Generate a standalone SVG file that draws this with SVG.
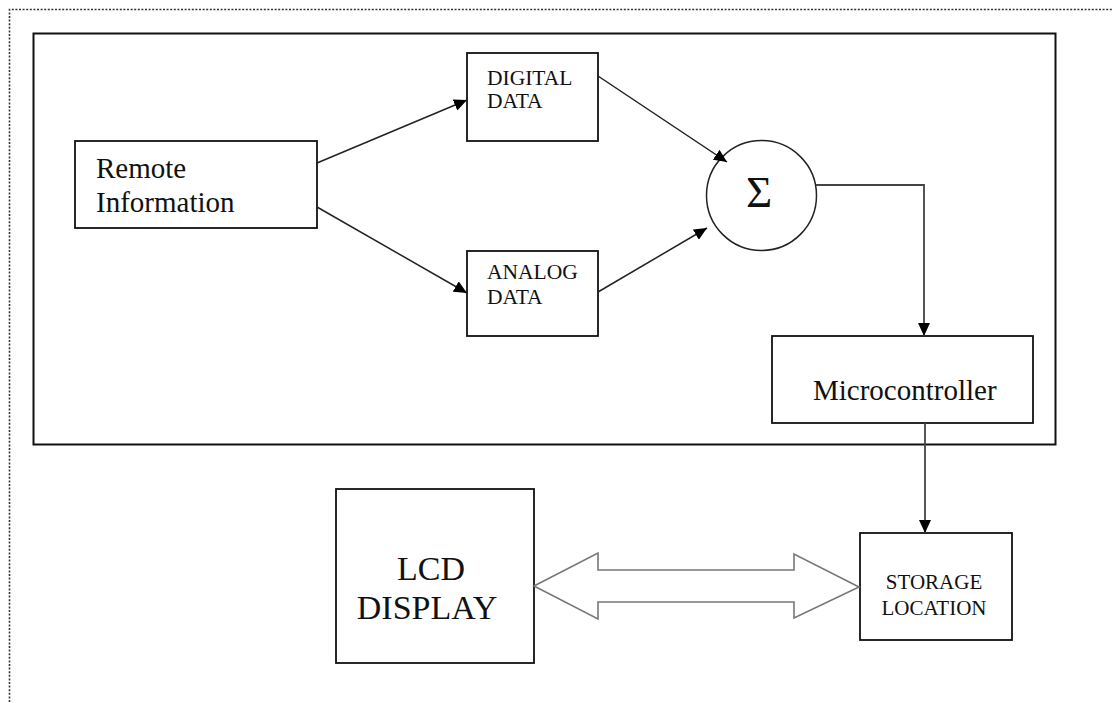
<svg xmlns="http://www.w3.org/2000/svg" width="1112" height="703" viewBox="0 0 1112 703">
  <style>
    .box { fill: #fff; stroke: #111; stroke-width: 1.8; }
    .frame { fill: none; stroke: #111; stroke-width: 2; }
    .page { fill: none; stroke: #333; stroke-width: 1.6; stroke-dasharray: 2 1.6; }
    .wire { fill: none; stroke: #222; stroke-width: 1.5; }
    .feed { fill: none; stroke: #444; stroke-width: 1.8; }
    .bus { fill: #fff; stroke: #777; stroke-width: 1.6; stroke-linejoin: miter; }
    text { font-family: "Liberation Serif", "Times New Roman", serif; fill: #111; }
    .big { font-size: 29px; }
    .small { font-size: 21.5px; }
    .lcd { font-size: 34px; text-anchor: middle; }
    .store { font-size: 21px; text-anchor: middle; }
  </style>
  <defs>
    <marker id="arrow" markerUnits="userSpaceOnUse" markerWidth="14" markerHeight="12" refX="13" refY="6" orient="auto">
      <path d="M0,0 L13,6 L0,12 z" fill="#000"/>
    </marker>
  </defs>

  <rect width="1112" height="703" fill="#fff"/>

  <!-- page border (dotted) running off the right and bottom edges -->
  <path class="page" d="M9.5,720 V9.5 H1120"/>

  <!-- enclosing system box -->
  <rect class="frame" x="33.5" y="33.5" width="1022" height="411"/>

  <g id="remote-information">
    <rect class="box" x="75" y="141" width="242" height="87"/>
    <text class="big" x="96" y="178">Remote</text>
    <text class="big" x="96" y="212">Information</text>
  </g>

  <g id="digital-data">
    <rect class="box" x="467" y="53" width="131" height="88"/>
    <text class="small" x="487" y="85">DIGITAL</text>
    <text class="small" x="487" y="108">DATA</text>
  </g>

  <g id="analog-data">
    <rect class="box" x="467" y="251" width="131" height="85"/>
    <text class="small" x="487" y="279">ANALOG</text>
    <text class="small" x="487" y="304">DATA</text>
  </g>

  <g id="summer">
    <circle cx="761.5" cy="195.5" r="55" fill="#fff" stroke="#222" stroke-width="1.5"/>
    <text x="759" y="207" font-size="45" text-anchor="middle">Σ</text>
  </g>

  <g id="microcontroller">
    <rect class="box" x="772" y="336" width="261" height="87"/>
    <text class="big" x="813" y="400">Microcontroller</text>
  </g>

  <g id="lcd-display">
    <rect class="box" x="336" y="489" width="198" height="174"/>
    <text class="lcd" x="431" y="580">LCD</text>
    <text class="lcd" x="427" y="619">DISPLAY</text>
  </g>

  <g id="storage-location">
    <rect class="box" x="860" y="533" width="152" height="107"/>
    <text class="store" x="934" y="589">STORAGE</text>
    <text class="store" x="934" y="615">LOCATION</text>
  </g>

  <g id="connectors">
    <line class="wire" x1="317" y1="163" x2="467" y2="100" marker-end="url(#arrow)"/>
    <line class="wire" x1="317" y1="207" x2="467" y2="293" marker-end="url(#arrow)"/>
    <line class="wire" x1="598" y1="76" x2="727" y2="162" marker-end="url(#arrow)"/>
    <line class="wire" x1="598" y1="292" x2="707" y2="228" marker-end="url(#arrow)"/>
    <polyline class="feed" points="816,185 924,185 924,336" marker-end="url(#arrow)"/>
    <line class="feed" x1="925" y1="423" x2="925" y2="533" marker-end="url(#arrow)"/>
    <!-- two-way hollow bus arrow between display and storage -->
    <polygon class="bus" points="534,586 598,553 598,570 794,570 794,554 859,587 794,618 794,602 598,602 598,619"/>
  </g>
</svg>
